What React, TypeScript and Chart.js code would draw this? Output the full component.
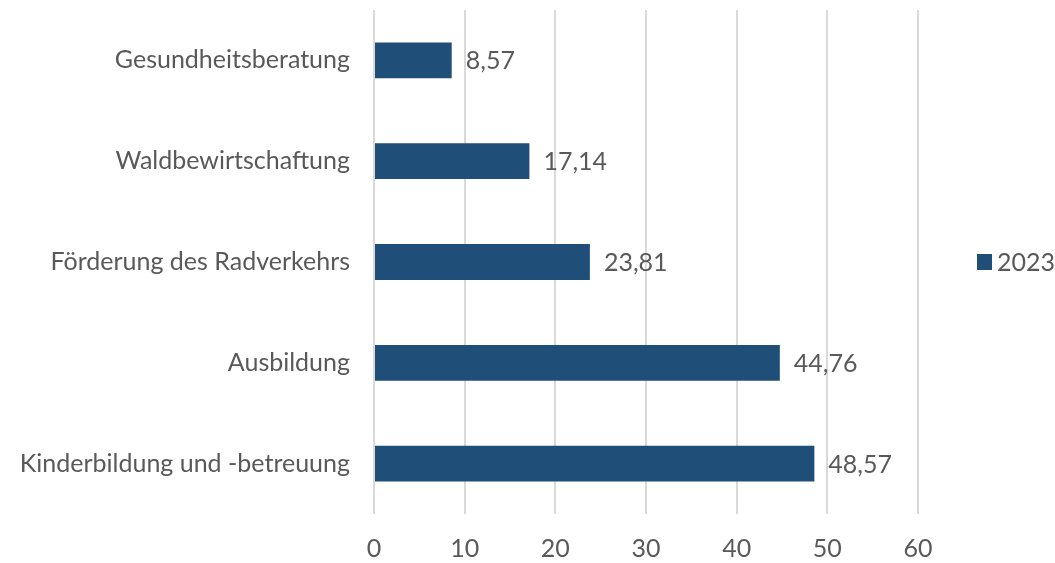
import React, { useEffect, useRef } from "react";
import { Chart, registerables } from "chart.js";

Chart.register(...registerables);

const categories = [
  "Gesundheitsberatung",
  "Waldbewirtschaftung",
  "Förderung des Radverkehrs",
  "Ausbildung",
  "Kinderbildung und -betreuung",
];
const values2023 = [8.57, 17.14, 23.81, 44.76, 48.57];
const seriesLabel = "2023";
const xMin = 0;
const xMax = 60;
const xStep = 10;

const BAR_COLOR = "#1f4e79";
const TEXT_COLOR = "#595959";
const FONT_FAMILY = "Lato, 'Open Sans', sans-serif";
const FONT_SIZE = 25;

const fmt = (v: number) => v.toFixed(2).replace(".", ",");

const labelPlugin = {
  id: "valueLabels",
  afterDatasetsDraw(chart: any) {
    const ctx = chart.ctx;
    const meta = chart.getDatasetMeta(0);
    ctx.save();
    ctx.font = `${FONT_SIZE}px ${FONT_FAMILY}`;
    ctx.fillStyle = TEXT_COLOR;
    ctx.textAlign = "left";
    ctx.textBaseline = "middle";
    meta.data.forEach((bar: any, i: number) => {
      ctx.fillText(fmt(values2023[i]), bar.x + 14, bar.y + 1);
    });
    ctx.restore();
  },
};

const legendPlugin = {
  id: "customLegend",
  afterDraw(chart: any) {
    const ctx = chart.ctx;
    const cy = (chart.chartArea.top + chart.chartArea.bottom) / 2;
    ctx.save();
    ctx.fillStyle = BAR_COLOR;
    ctx.fillRect(977, cy - 8, 15, 16);
    ctx.font = `${FONT_SIZE}px ${FONT_FAMILY}`;
    ctx.fillStyle = TEXT_COLOR;
    ctx.textAlign = "left";
    ctx.textBaseline = "middle";
    ctx.fillText(seriesLabel, 997, cy + 1);
    ctx.restore();
  },
};

export default function App() {
  const ref = useRef<HTMLCanvasElement | null>(null);
  useEffect(() => {
    if (!ref.current) return;
    const chart = new Chart(ref.current, {
      type: "bar",
      data: {
        labels: categories,
        datasets: [
          {
            label: seriesLabel,
            data: values2023,
            backgroundColor: BAR_COLOR,
            borderWidth: 0,
            categoryPercentage: 1,
            barPercentage: 0.355,
          },
        ],
      },
      options: {
        indexAxis: "y",
        animation: false,
        responsive: false,
        maintainAspectRatio: false,
        layout: { padding: { top: 10, right: 137, bottom: 0, left: 0 } },
        plugins: {
          legend: { display: false },
          tooltip: { enabled: false },
        },
        scales: {
          x: {
            min: xMin,
            max: xMax,
            ticks: {
              stepSize: xStep,
              color: TEXT_COLOR,
              font: { family: FONT_FAMILY, size: FONT_SIZE },
              padding: 20,
            },
            grid: { color: "#d9d9d9", lineWidth: 2, drawTicks: false },
            border: { display: false },
            afterFit: (s: any) => {
              s.height = 49;
              s.paddingLeft = 0;
              s.paddingRight = 0;
            },
          },
          y: {
            ticks: {
              color: TEXT_COLOR,
              font: { family: FONT_FAMILY, size: FONT_SIZE },
              padding: 24,
            },
            grid: { display: false, drawTicks: false },
            border: { display: false },
            afterFit: (s: any) => {
              s.width = 374;
              s.paddingTop = 0;
              s.paddingBottom = 0;
            },
          },
        },
      },
      plugins: [labelPlugin, legendPlugin],
    });
    return () => chart.destroy();
  }, []);
  return (
    <div style={{ position: "fixed", left: 0, top: 0, width: 1055, height: 563, background: "#fff" }}>
      <canvas ref={ref} width={1055} height={563} style={{ width: 1055, height: 563 }} />
    </div>
  );
}
